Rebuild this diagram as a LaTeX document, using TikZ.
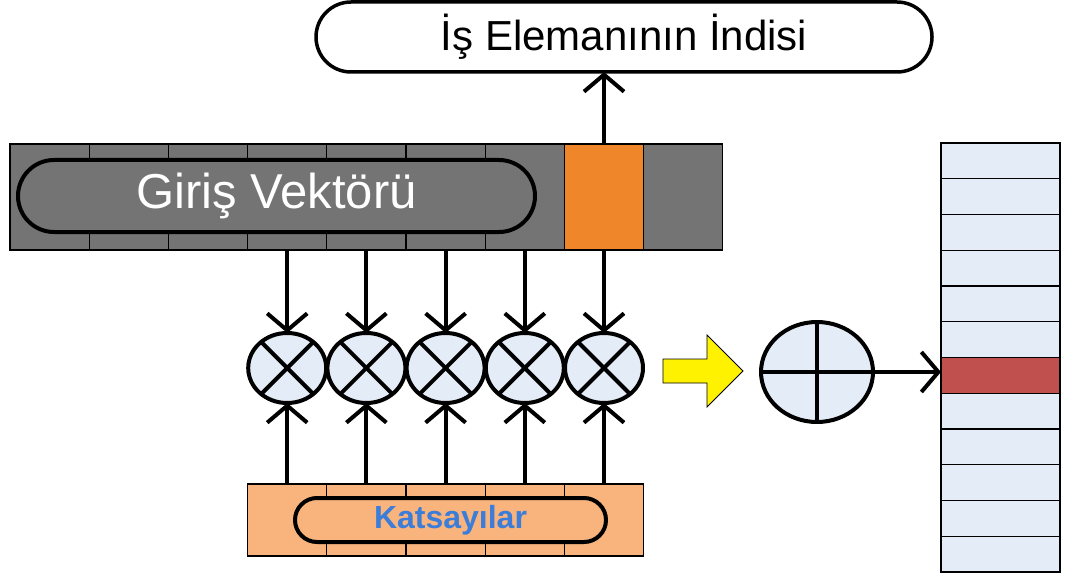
\documentclass[tikz,border=0pt]{standalone}
\usepackage{fontspec}
\setmainfont{Liberation Sans}
\usetikzlibrary{arrows.meta,shapes.geometric}
\definecolor{grayA}{HTML}{747474}
\definecolor{orangeA}{HTML}{F0862A}
\definecolor{orangeB}{HTML}{F8B47C}
\definecolor{blueT}{HTML}{3C7DD9}
\definecolor{blueL}{HTML}{E4ECF7}
\definecolor{redA}{HTML}{C0504D}
\begin{document}
\begin{tikzpicture}[x=1pt,y=-1pt,
  cellbox/.style={draw=black,line width=1.2pt,inner sep=0pt,outer sep=0pt,minimum width=79.2pt},
  pill/.style={draw=black,line width=4pt,inner sep=0pt,outer sep=0pt},
  mult/.style={ellipse,draw=black,fill=blueL,line width=4pt,inner sep=0pt,outer sep=0pt,minimum width=78pt,minimum height=70pt},
  arr/.style={line width=4pt,-{Straight Barb[length=17pt,width=40pt]}},
  thk/.style={line width=4pt}]
\useasboundingbox (0,0) rectangle (1067,580);
% top box
\node[pill,line width=3.5pt,rounded corners=35pt,minimum width=616pt,minimum height=70pt,fill=white] (top) at (624,37)
  {\fontsize{42}{46}\selectfont İş Elemanının İndisi};
% input vector cells
\foreach \i in {1,...,7,9}
  \node[cellbox,fill=grayA,minimum height=106pt] (in\i) at ({10+79.2*(\i-0.5)},197) {};
\node[cellbox,fill=orangeA,minimum height=106pt] (in8) at ({10+79.2*7.5},197) {};
\node[pill,fill=grayA,rounded corners=36pt,minimum width=517pt,minimum height=72pt] (gv) at (276.5,196)
  {\color{white}\fontsize{49}{54}\selectfont Giriş Vektörü};
% coefficient cells
\foreach \i in {1,...,5}
  \node[cellbox,fill=orangeB,minimum height=72pt] (k\i) at ({10+79.2*(\i+2.5)},520) {};
\node[pill,fill=orangeB,rounded corners=22pt,minimum width=311pt,minimum height=44pt] (ks) at (450.5,520)
  {\color{blueT}\bfseries\fontsize{32}{36}\selectfont Katsayılar};
% multipliers
\foreach \i in {1,...,5} {
  \node[mult] (m\i) at ({10+79.2*(\i+2.5)},368) {};
  \draw[thk] (m\i.45) -- (m\i.225);
  \draw[thk] (m\i.135) -- (m\i.315);
}
\foreach \i [evaluate=\i as \j using int(\i+3)] in {1,...,5} {
  \draw[arr] (in\j.south) -- (m\i.north);
  \draw[arr] (k\i.north) -- (m\i.south);
}
\draw[arr] (in8.north) -- (in8.north |- top.south);
% yellow arrow
\draw[fill=yellow,line width=0.8pt,line join=miter] (663,359) -- (707,359) -- (707,335) -- (743,371) -- (707,407) -- (707,383) -- (663,383) -- cycle;
% adder
\node[mult,minimum width=112pt,minimum height=100pt] (p) at (817,372) {};
\draw[thk] (p.north) -- (p.south);
\draw[thk] (p.west) -- (p.east);
% memory column
\foreach \i in {1,...,12}
  \node[cellbox,fill=blueL,minimum width=119pt,minimum height=35.75pt] (r\i) at (1000.5,{143+35.75*(\i-0.5)}) {};
\node[cellbox,fill=redA,minimum width=119pt,minimum height=35.75pt] (r7) at (1000.5,{143+35.75*6.5}) {};
\draw[arr] (p.east) -- (p.east -| r7.west);
\end{tikzpicture}
\end{document}
